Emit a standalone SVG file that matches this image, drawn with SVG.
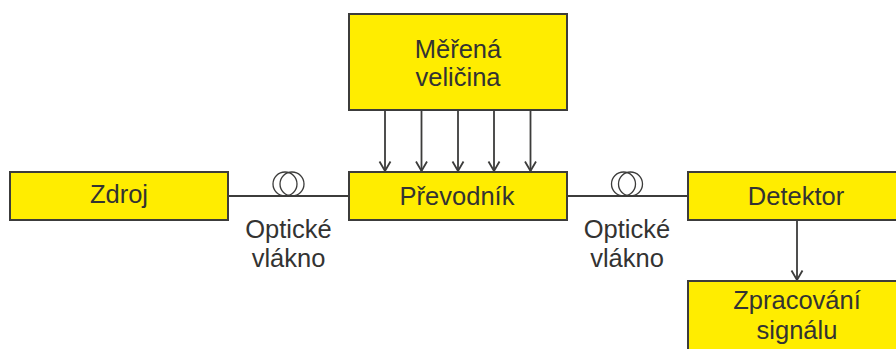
<svg xmlns="http://www.w3.org/2000/svg" width="896" height="349" viewBox="0 0 896 349">
<style>
.n{fill:#ffed00;stroke:#3c3c3b;stroke-width:2}
.c{fill:none;stroke:#3c3c3b;stroke-width:2}
.a{fill:none;stroke:#3c3c3b;stroke-width:1.8;marker-end:url(#ah)}
.f{fill:none;stroke:#3c3c3b;stroke-width:1.3}
text{font-family:"Liberation Sans",Arial,sans-serif;font-size:25.500px;fill:#333332;text-anchor:middle}
</style>
<defs>
<marker id="ah" markerUnits="userSpaceOnUse" markerWidth="14" markerHeight="14" refX="11" refY="7" orient="auto">
<path d="M1.500 1.500L11 7L1.500 12.500" fill="none" stroke="#3c3c3b" stroke-width="1.8"/>
</marker>
</defs>
<rect width="896" height="349" fill="#fff"/>
<g id="connectors">
<path class="c" d="M228 196H349M567 196H688"/>
<path class="a" d="M385 110V171"/>
<path class="a" d="M421.500 110V171"/>
<path class="a" d="M458 110V171"/>
<path class="a" d="M494 110V171"/>
<path class="a" d="M530.500 110V171"/>
<path class="a" d="M797 220V280"/>
<g id="coil1"><circle class="f" cx="285" cy="184" r="12"/><circle class="f" cx="292" cy="184" r="12"/></g>
<g id="coil2"><circle class="f" cx="623.500" cy="184" r="12"/><circle class="f" cx="630.500" cy="184" r="12"/></g>
</g>
<g id="merena"><rect class="n" x="349" y="14" width="218" height="96"/><text x="458" y="58">Měřená</text><text x="458" y="86">veličina</text></g>
<g id="zdroj"><rect class="n" x="10" y="172" width="218" height="48"/><text x="119" y="203">Zdroj</text></g>
<g id="prevodnik"><rect class="n" x="349" y="172" width="218" height="48"/><text x="457" y="205">Převodník</text></g>
<g id="detektor"><rect class="n" x="688" y="172" width="218" height="48"/><text x="796" y="205">Detektor</text></g>
<g id="zpracovani"><rect class="n" x="688" y="281" width="218" height="80"/><text x="797" y="309">Zpracování</text><text x="797" y="339">signálu</text></g>
<g id="label1"><text x="288.500" y="238">Optické</text><text x="288.500" y="267">vlákno</text></g>
<g id="label2"><text x="627" y="238">Optické</text><text x="627" y="267">vlákno</text></g>
</svg>
